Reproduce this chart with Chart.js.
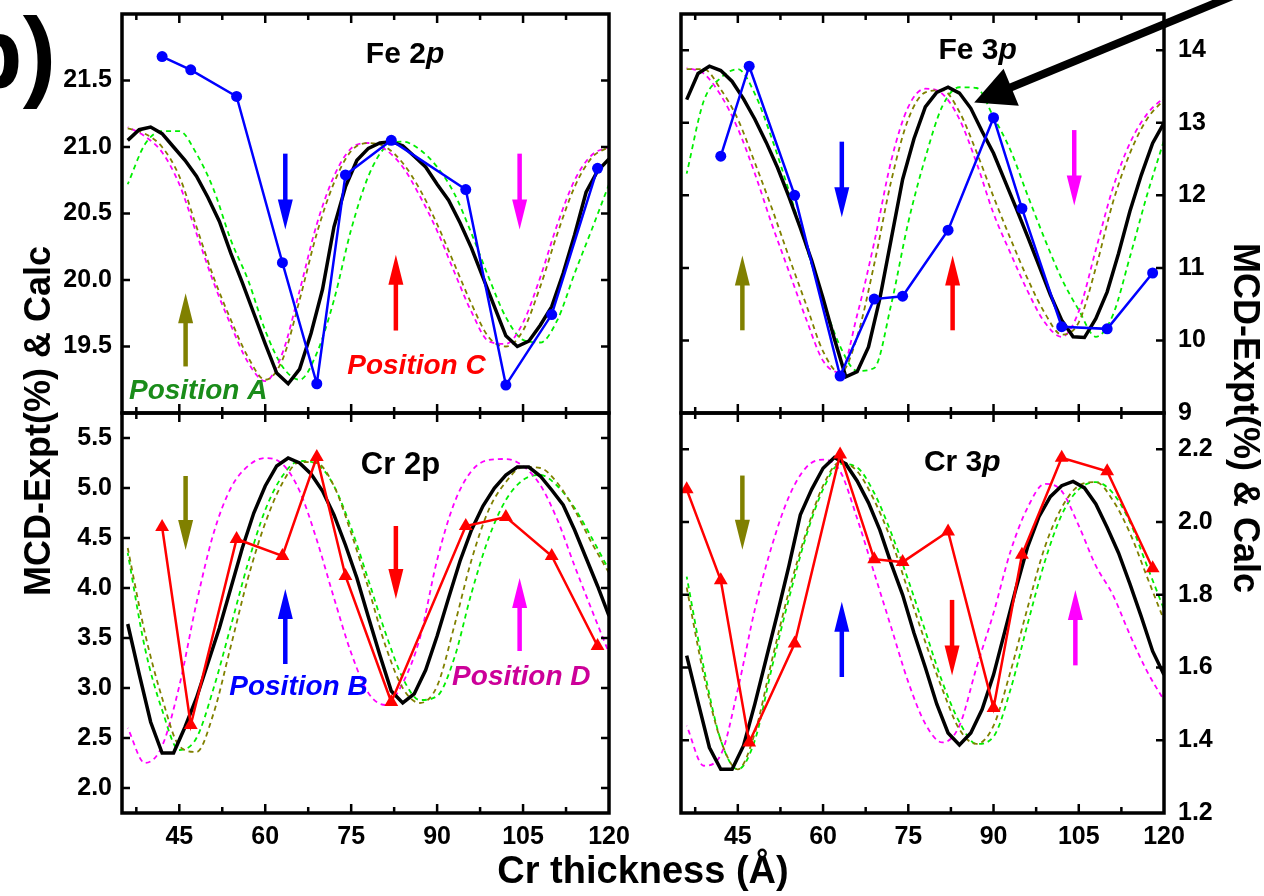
<!DOCTYPE html>
<html>
<head>
<meta charset="utf-8">
<script src="https://cdn.jsdelivr.net/npm/chart.js@4.4.0/dist/chart.umd.min.js"></script>
<style>
  html, body { margin: 0; padding: 0; background: #fff; }
  #wrap { position: relative; width: 1264px; height: 896px; overflow: hidden;
          font-family: 'Liberation Sans', Arial, Helvetica, sans-serif; }
  #wrap canvas { position: absolute; left: 0; top: 0; }
  .txt { position: absolute; font-weight: bold; white-space: nowrap; color: #000; line-height: 1; }
</style>
</head>
<body>
<div id="wrap">
  <canvas id="fe2p" width="1264" height="896"></canvas>
  <canvas id="cr2p" width="1264" height="896"></canvas>
  <canvas id="fe3p" width="1264" height="896"></canvas>
  <canvas id="cr3p" width="1264" height="896"></canvas>
  <div class="txt" style="left:56px;top:3px;font-size:100px;transform:translateX(-100%);">b)</div>
  <div class="txt" style="left:643px;top:870px;font-size:38px;transform:translate(-50%,-50%);">Cr thickness (Å)</div>
  <div class="txt" style="left:38px;top:421px;font-size:36px;transform:translate(-50%,-50%) rotate(-90deg);">MCD-Expt(%) &amp; Calc</div>
  <div class="txt" style="left:1246px;top:418px;font-size:36px;transform:translate(-50%,-50%) rotate(90deg);">MCD-Expt(%) &amp; Calc</div>
</div>
<script>
// Cr thickness grids (Å)
const thickCalc = [36, 38, 40, 42, 44, 46, 48, 50, 52, 54, 56, 58, 60, 62, 64, 66, 68, 70, 72, 74, 76, 78,
                   80, 82, 84, 86, 88, 90, 92, 94, 96, 98, 100, 102, 104, 106, 108, 110, 112, 114, 116, 118, 120];
const thickDash = [36, 39, 42, 45, 48, 51, 54, 57, 60, 63, 66, 69, 72, 75, 78, 81, 84, 87, 90, 93, 96, 99,
                   102, 105, 108, 111, 114, 117, 120];
const thickExpt = [42, 47, 55, 63, 69, 74, 82, 95, 102, 110, 118];
const thickExptFe3p = [42, 47, 55, 63, 69, 74, 82, 90, 95, 102, 110, 118];
const thickExptCr3p = [36, 42, 47, 55, 63, 69, 74, 82, 90, 95, 102, 110, 118];

// Fe 2p
const fe2pExpt = [21.68, 21.58, 21.38, 20.13, 19.22, 20.79, 21.05, 20.68, 19.21, 19.74, 20.84];
const fe2pCalc = [21.05, 21.13, 21.15, 21.10, 21.00, 20.90, 20.78, 20.62, 20.44, 20.20, 19.98, 19.75, 19.52, 19.30,
                  19.22, 19.33, 19.60, 19.93, 20.40, 20.70, 20.90, 20.99, 21.03, 21.04, 21.01, 20.93, 20.85, 20.72,
                  20.60, 20.43, 20.24, 20.02, 19.80, 19.58, 19.50, 19.54, 19.66, 19.80, 20.05, 20.34, 20.66, 20.82, 20.91];
const fe2pOlive = [21.14, 21.10, 21.00, 20.78, 20.40, 20.02, 19.70, 19.42, 19.25, 19.40, 19.85, 20.35, 20.73, 20.97,
                   21.03, 21.00, 20.88, 20.68, 20.42, 20.12, 19.82, 19.57, 19.50, 19.62, 19.95, 20.35, 20.70, 20.92, 21.00];
const fe2pMagenta = [21.15, 21.08, 20.96, 20.72, 20.35, 19.98, 19.66, 19.38, 19.24, 19.45, 19.92, 20.42, 20.78, 20.99,
                     21.03, 20.98, 20.85, 20.63, 20.37, 20.06, 19.76, 19.54, 19.52, 19.68, 20.02, 20.42, 20.75, 20.94, 21.00];
const fe2pGreen = [20.72, 21.02, 21.12, 21.12, 20.95, 20.68, 20.30, 20.00, 19.62, 19.35, 19.25, 19.45, 19.85, 20.38,
                   20.78, 21.00, 21.04, 20.98, 20.85, 20.65, 20.35, 20.02, 19.72, 19.55, 19.53, 19.70, 20.05, 20.38, 20.72];

// Cr 2p
const cr2pExpt = [4.61, 2.63, 4.49, 4.32, 5.31, 4.12, 2.86, 4.62, 4.71, 4.32, 3.42];
const cr2pCalc = [3.64, 3.14, 2.66, 2.35, 2.35, 2.61, 2.90, 3.25, 3.60, 4.00, 4.40, 4.75, 5.02, 5.22, 5.30, 5.25,
                  5.14, 4.97, 4.73, 4.43, 4.10, 3.71, 3.33, 2.97, 2.85, 2.94, 3.18, 3.52, 3.90, 4.27, 4.58, 4.82,
                  5.00, 5.13, 5.21, 5.21, 5.12, 4.98, 4.83, 4.58, 4.30, 4.02, 3.72];
const cr2pOlive = [4.40, 3.55, 2.90, 2.42, 2.36, 2.75, 3.42, 4.10, 4.65, 5.05, 5.26, 5.25, 5.02, 4.55, 4.00, 3.42,
                   3.00, 2.85, 3.02, 3.62, 4.28, 4.78, 5.06, 5.21, 5.20, 5.05, 4.78, 4.45, 4.15];
const cr2pMagenta = [2.60, 2.25, 2.42, 3.02, 3.85, 4.55, 5.00, 5.22, 5.30, 5.24, 4.97, 4.48, 3.90, 3.35, 2.95, 2.83,
                     3.05, 3.50, 4.28, 4.85, 5.17, 5.28, 5.29, 5.22, 5.03, 4.68, 4.22, 3.78, 3.35];
const cr2pGreen = [4.35, 3.40, 2.78, 2.38, 2.50, 3.00, 3.62, 4.25, 4.78, 5.12, 5.27, 5.24, 5.02, 4.60, 4.08, 3.55,
                   3.10, 2.88, 2.92, 3.30, 3.95, 4.50, 4.88, 5.08, 5.13, 5.02, 4.80, 4.50, 4.18];

// Fe 3p
const fe3pExpt = [12.54, 13.78, 12.00, 9.51, 10.57, 10.61, 11.52, 13.07, 11.82, 10.19, 10.16, 10.93];
const fe3pCalc = [13.32, 13.68, 13.78, 13.72, 13.57, 13.33, 13.05, 12.73, 12.38, 11.98, 11.55, 11.10, 10.58, 10.02,
                  9.50, 9.57, 9.91, 10.58, 11.40, 12.22, 12.78, 13.22, 13.42, 13.49, 13.41, 13.20, 12.88, 12.58,
                  12.20, 11.82, 11.43, 11.03, 10.63, 10.28, 10.05, 10.04, 10.30, 10.67, 11.20, 11.78, 12.28, 12.72, 13.00];
const fe3pOlive = [13.74, 13.74, 13.46, 13.05, 12.45, 11.82, 11.15, 10.50, 9.85, 9.55, 10.05, 11.05, 12.20, 13.05,
                   13.42, 13.45, 13.15, 12.60, 11.98, 11.40, 10.85, 10.38, 10.08, 10.25, 11.00, 11.90, 12.58, 13.05, 13.32];
const fe3pMagenta = [13.76, 13.68, 13.38, 12.92, 12.30, 11.60, 10.95, 10.30, 9.72, 9.56, 10.35, 11.35, 12.48, 13.22,
                     13.47, 13.40, 13.05, 12.45, 11.75, 11.20, 10.68, 10.25, 10.05, 10.40, 11.25, 12.10, 12.72, 13.12, 13.35];
const fe3pGreen = [12.30, 13.30, 13.62, 13.74, 13.40, 12.78, 12.06, 11.30, 10.55, 9.92, 9.58, 9.62, 10.50, 11.63,
                   12.52, 13.23, 13.49, 13.48, 13.08, 12.62, 12.00, 11.40, 10.85, 10.42, 10.05, 10.35, 11.15, 12.00, 12.76];

// Cr 3p
const cr3pExpt = [2.09, 1.84, 1.394, 1.666, 2.186, 1.898, 1.89, 1.974, 1.489, 1.91, 2.177, 2.14, 1.873];
const cr3pCalc = [1.633, 1.505, 1.38, 1.32, 1.32, 1.385, 1.50, 1.625, 1.75, 1.88, 2.02, 2.09, 2.148, 2.178, 2.16,
                  2.113, 2.053, 1.978, 1.885, 1.80, 1.695, 1.60, 1.50, 1.42, 1.387, 1.42, 1.485, 1.58, 1.70, 1.82,
                  1.932, 2.015, 2.07, 2.10, 2.112, 2.094, 2.05, 1.985, 1.915, 1.83, 1.74, 1.645, 1.58];
const cr3pOlive = [1.82, 1.58, 1.40, 1.32, 1.42, 1.62, 1.81, 1.97, 2.10, 2.165, 2.14, 2.06, 1.95, 1.81, 1.67, 1.54,
                   1.43, 1.39, 1.44, 1.59, 1.765, 1.93, 2.04, 2.10, 2.11, 2.06, 1.97, 1.85, 1.73];
const cr3pMagenta = [1.44, 1.33, 1.36, 1.54, 1.76, 1.935, 2.07, 2.15, 2.172, 2.14, 2.01, 1.86, 1.71, 1.56, 1.445, 1.394,
                     1.44, 1.60, 1.75, 1.92, 2.04, 2.105, 2.085, 1.99, 1.88, 1.80, 1.69, 1.59, 1.51];
const cr3pGreen = [1.85, 1.60, 1.40, 1.32, 1.40, 1.60, 1.79, 1.96, 2.09, 2.16, 2.15, 2.08, 1.97, 1.84, 1.70, 1.56,
                   1.45, 1.39, 1.41, 1.54, 1.72, 1.89, 2.02, 2.09, 2.11, 2.08, 2.00, 1.88, 1.76];

// tick values
const xTicks = [37.5, 45, 52.5, 60, 67.5, 75, 82.5, 90, 97.5, 105, 112.5, 120];
const fe2pTicks = [19.5, 20.0, 20.5, 21.0, 21.5];
const cr2pTicks = [2.0, 2.5, 3.0, 3.5, 4.0, 4.5, 5.0, 5.5];
const fe3pTicks = [9, 10, 11, 12, 13, 14];
const cr3pTicks = [1.2, 1.4, 1.6, 1.8, 2.0, 2.2];

const FONT = "'Liberation Sans', Arial, Helvetica, sans-serif";
const OLIVE = '#808000', MAGENTA = '#ff00ff', GREEN = '#00ee00';
const AXIS_W = 80, AXIS_H = 44;   // room kept for tick labels

function pts(xs, ys) { return xs.map((x, i) => ({ x: x, y: ys[i] })); }

// keep the panel box exactly where it is asked to be
function noPad(s) { s.paddingTop = 0; s.paddingBottom = 0; s.paddingLeft = 0; s.paddingRight = 0; }

function drawArrow(ctx, x0, y0, x1, y1, color, shaft, headLen, headHalf) {
  const dx = x1 - x0, dy = y1 - y0, L = Math.hypot(dx, dy);
  const ux = dx / L, uy = dy / L;
  const bx = x1 - ux * headLen, by = y1 - uy * headLen;
  ctx.strokeStyle = color;
  ctx.fillStyle = color;
  ctx.lineWidth = shaft;
  ctx.lineCap = 'butt';
  ctx.beginPath();
  ctx.moveTo(x0, y0);
  ctx.lineTo(bx + ux * 2, by + uy * 2);
  ctx.stroke();
  ctx.beginPath();
  ctx.moveTo(x1, y1);
  ctx.lineTo(bx - uy * headHalf, by + ux * headHalf);
  ctx.lineTo(bx + uy * headHalf, by - ux * headHalf);
  ctx.closePath();
  ctx.fill();
}

// box, inward ticks, arrows and in-panel texts
const framePlugin = {
  id: 'frame',
  afterDraw(chart, args, opts) {
    const { ctx, chartArea: a } = chart;
    const xs = chart.scales.x, ys = chart.scales.y;
    ctx.save();

    (opts.arrows || []).forEach(ar => {
      const px = xs.getPixelForValue(ar[0]);
      drawArrow(ctx, px, ys.getPixelForValue(ar[1]), px, ys.getPixelForValue(ar[2]), ar[3], 4.5, 30, 7.5);
    });

    if (opts.bigArrow) {
      const b = opts.bigArrow;
      drawArrow(ctx, b.tail[0], b.tail[1], xs.getPixelForValue(b.tip[0]), ys.getPixelForValue(b.tip[1]),
                '#000', 8, 40, 20);
    }

    (opts.labels || []).forEach(lb => {
      const cx = xs.getPixelForValue(lb.x), cy = ys.getPixelForValue(lb.y);
      const fonts = lb.parts.map(p => p[1] + 'bold ' + lb.size + 'px ' + FONT);
      let total = 0;
      const widths = lb.parts.map((p, i) => { ctx.font = fonts[i]; const w = ctx.measureText(p[0]).width; total += w; return w; });
      let x = cx - total / 2;
      ctx.fillStyle = lb.color;
      ctx.textBaseline = 'middle';
      ctx.textAlign = 'left';
      lb.parts.forEach((p, i) => { ctx.font = fonts[i]; ctx.fillText(p[0], x, cy); x += widths[i]; });
    });

    ctx.strokeStyle = '#000';
    ctx.lineWidth = 2.5;
    ctx.lineCap = 'butt';
    xs.ticks.forEach(t => {
      if (t.value <= xs.min || t.value >= xs.max) return;
      const p = xs.getPixelForValue(t.value);
      const len = t.value % 15 === 0 ? 9 : 6;
      ctx.beginPath();
      ctx.moveTo(p, a.bottom); ctx.lineTo(p, a.bottom - len);
      ctx.moveTo(p, a.top); ctx.lineTo(p, a.top + len);
      ctx.stroke();
    });
    ys.ticks.forEach(t => {
      if (t.value <= ys.min || t.value >= ys.max) return;
      const p = ys.getPixelForValue(t.value);
      ctx.beginPath();
      ctx.moveTo(a.left, p); ctx.lineTo(a.left + 8, p);
      ctx.moveTo(a.right, p); ctx.lineTo(a.right - 8, p);
      ctx.stroke();
    });
    ctx.lineWidth = 3.5;
    ctx.strokeRect(a.left, a.top, a.right - a.left, a.bottom - a.top);
    ctx.restore();
  }
};

function makePanel(id, p) {
  const dash = (data, color, offset) => ({
    data: pts(thickDash, data), borderColor: color, borderWidth: 1.8, borderDash: [5, 4],
    borderDashOffset: offset, pointRadius: 0, cubicInterpolationMode: 'monotone', order: 3
  });
  const yW = AXIS_W, xH = p.xLabels ? AXIS_H : 0;
  const pad = {
    left: p.side === 'left' ? p.box[0] - yW : p.box[0],
    right: p.side === 'right' ? 1264 - p.box[2] - yW : 1264 - p.box[2],
    top: p.box[1],
    bottom: 896 - p.box[3] - xH
  };
  return new Chart(document.getElementById(id), {
    type: 'line',
    data: {
      datasets: [
        { data: pts(p.exptX, p.expt), borderColor: p.exptColor, backgroundColor: p.exptColor, borderWidth: 2.5,
          pointStyle: p.marker, pointRadius: p.marker === 'circle' ? 5.5 : 8, pointBorderWidth: 0, tension: 0, order: 0 },
        { data: pts(thickCalc, p.calc), borderColor: '#000', borderWidth: 3.5, pointRadius: 0, tension: 0, order: 1 },
        dash(p.olive, OLIVE, 0),
        dash(p.magenta, MAGENTA, 4.5),
        dash(p.green, GREEN, 2)
      ]
    },
    options: {
      responsive: false,
      animation: false,
      devicePixelRatio: 1,
      layout: { padding: pad },
      plugins: {
        legend: { display: false },
        tooltip: { enabled: false },
        frame: { arrows: p.arrows, labels: p.labels, bigArrow: p.bigArrow }
      },
      scales: {
        x: {
          type: 'linear', min: 35, max: 120, position: 'bottom',
          afterBuildTicks: s => { s.ticks = xTicks.map(v => ({ value: v })); },
          afterFit: s => { s.height = xH; noPad(s); },
          grid: { display: false, drawTicks: false },
          border: { display: false },
          ticks: {
            display: p.xLabels, autoSkip: false, maxRotation: 0, minRotation: 0, padding: 9, color: '#000',
            font: { family: FONT, size: 25, weight: 'bold' },
            callback: v => (v % 15 === 0 ? String(v) : '')
          }
        },
        y: {
          type: 'linear', min: p.yRange[0], max: p.yRange[1], position: p.side,
          afterBuildTicks: s => { s.ticks = p.yTicks.map(v => ({ value: v })); },
          afterFit: s => { s.width = yW; noPad(s); },
          grid: { display: false, drawTicks: false },
          border: { display: false },
          ticks: {
            autoSkip: false, padding: p.side === 'left' ? 10 : 14, color: '#000',
            font: { family: FONT, size: 25, weight: 'bold' },
            callback: v => p.fmt(v)
          }
        }
      }
    },
    plugins: [framePlugin]
  });
}

const one = v => v.toFixed(1);

makePanel('fe2p', {
  box: [122, 14, 609, 413], yRange: [19.0, 22.0], yTicks: fe2pTicks, side: 'left', fmt: one, xLabels: false,
  exptX: thickExpt, expt: fe2pExpt, exptColor: '#0000ff', marker: 'circle',
  calc: fe2pCalc, olive: fe2pOlive, magenta: fe2pMagenta, green: fe2pGreen,
  arrows: [[46.1, 19.35, 19.90, OLIVE], [63.5, 20.95, 20.38, '#0000ff'], [82.8, 19.62, 20.19, '#ff0000'], [104.4, 20.95, 20.38, MAGENTA]],
  labels: [
    { x: 84.4, y: 21.69, size: 30, color: '#000', parts: [['Fe 2', ''], ['p', 'italic ']] },
    { x: 48.3, y: 19.16, size: 28, color: '#1a8c1a', parts: [['Position A', 'italic ']] },
    { x: 86.4, y: 19.35, size: 28, color: '#ff0000', parts: [['Position C', 'italic ']] }
  ]
});

makePanel('cr2p', {
  box: [122, 413, 609, 813], yRange: [1.75, 5.75], yTicks: cr2pTicks, side: 'left', fmt: one, xLabels: true,
  exptX: thickExpt, expt: cr2pExpt, exptColor: '#ff0000', marker: 'triangle',
  calc: cr2pCalc, olive: cr2pOlive, magenta: cr2pMagenta, green: cr2pGreen,
  arrows: [[46.1, 5.12, 4.38, OLIVE], [63.5, 3.24, 3.99, '#0000ff'], [82.8, 4.62, 3.89, '#ff0000'], [104.4, 3.37, 4.10, MAGENTA]],
  labels: [
    { x: 83.6, y: 5.23, size: 31, color: '#000', parts: [['Cr 2p', '']] },
    { x: 65.8, y: 3.01, size: 28, color: '#0000ff', parts: [['Position B', 'italic ']] },
    { x: 104.7, y: 3.11, size: 28, color: '#cc0099', parts: [['Position D', 'italic ']] }
  ]
});

makePanel('fe3p', {
  box: [681, 14, 1164, 413], yRange: [9, 14.5], yTicks: fe3pTicks, side: 'right', fmt: v => String(v), xLabels: false,
  exptX: thickExptFe3p, expt: fe3pExpt, exptColor: '#0000ff', marker: 'circle',
  calc: fe3pCalc, olive: fe3pOlive, magenta: fe3pMagenta, green: fe3pGreen,
  arrows: [[45.8, 10.14, 11.17, OLIVE], [63.3, 12.74, 11.70, '#0000ff'], [82.8, 10.14, 11.17, '#ff0000'], [104.2, 12.90, 11.86, MAGENTA]],
  labels: [
    { x: 87.2, y: 14.0, size: 30, color: '#000', parts: [['Fe 3', ''], ['p', 'italic ']] }
  ],
  bigArrow: { tip: [86.6, 13.28], tail: [1252, -12] }
});

makePanel('cr3p', {
  box: [681, 413, 1164, 813], yRange: [1.2, 2.3], yTicks: cr3pTicks, side: 'right', fmt: one, xLabels: true,
  exptX: thickExptCr3p, expt: cr3pExpt, exptColor: '#ff0000', marker: 'triangle',
  calc: cr3pCalc, olive: cr3pOlive, magenta: cr3pMagenta, green: cr3pGreen,
  arrows: [[45.8, 2.128, 1.924, OLIVE], [63.3, 1.574, 1.781, '#0000ff'], [82.7, 1.786, 1.578, '#ff0000'], [104.4, 1.606, 1.813, MAGENTA]],
  labels: [
    { x: 84.5, y: 2.164, size: 30, color: '#000', parts: [['Cr 3', ''], ['p', 'italic ']] }
  ]
});
</script>
</body>
</html>
